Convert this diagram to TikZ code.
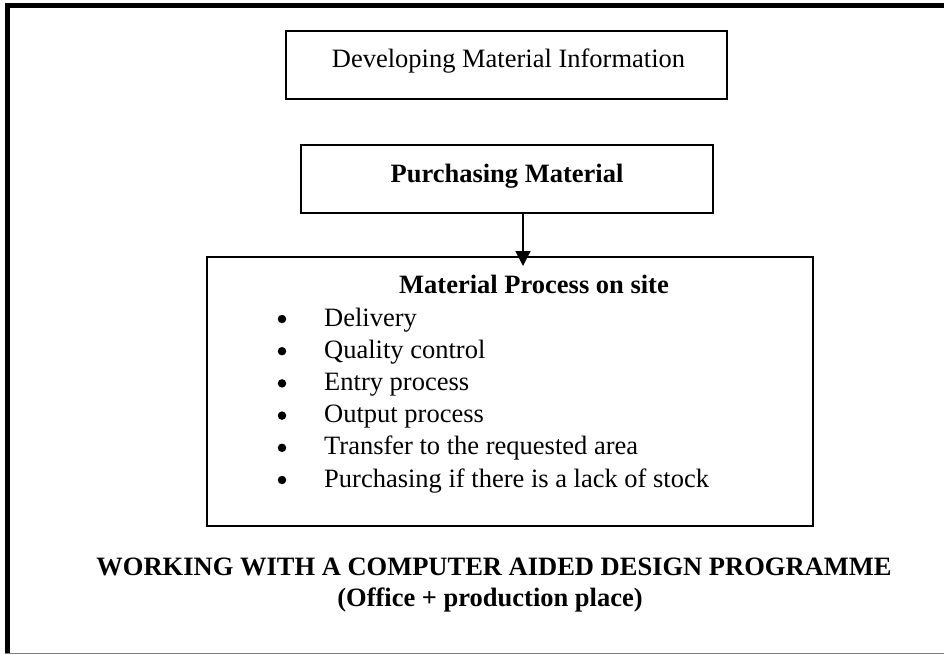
\documentclass[tikz,border=0pt]{standalone}
\usepackage{fontspec}
\setmainfont{Liberation Serif}
\usetikzlibrary{arrows.meta}
\tikzset{
  box/.style={draw=black, line width=1.6pt, rectangle, inner sep=0pt},
  lbl/.style={anchor=base, inner sep=0pt, font=\fontsize{26.5}{30}\selectfont},
  bold/.style={lbl, font=\fontsize{26.5}{30}\selectfont\bfseries},
  item/.style={anchor=base west, inner sep=0pt, font=\fontsize{26.5}{30}\selectfont},
  dot/.style={circle, fill=black, inner sep=0pt, minimum size=8.5pt},
  arr/.style={line width=1.6pt, -{Triangle[width=15pt,length=15pt]}},
}
\begin{document}
\begin{tikzpicture}[x=1pt, y=-1pt]
  \useasboundingbox (0,0) rectangle (944,654);
  % page frame: heavy left and top rules, thin grey bottom edge
  \draw[line width=5pt] (7.5,654) -- (7.5,5) -- (944,5);
  \draw[gray, line width=1pt] (5,653) -- (944,653);

  % boxes
  \node[box, minimum width=441pt, minimum height=68pt] (dev) at (506.5,65) {};
  \node[lbl] (devt) at (508.5,67) {Developing Material Information};

  \node[box, minimum width=412pt, minimum height=68pt] (pur) at (507,179) {};
  \node[bold] (purt) at (507,182) {Purchasing Material};

  \node[box, minimum width=606pt, minimum height=269pt] (site) at (510,391.5) {};
  \node[bold] (sitet) at (534,293) {Material Process on site};

  % bullet list
  \foreach \t [count=\i] in {Delivery, Quality control, Entry process, Output process,
      Transfer to the requested area, Purchasing if there is a lack of stock} {
    \node[dot] (b\i) at (282, 319 + 32.2*\i - 32.2) {};
    \node[item] (t\i) at (324, 326 + 32.2*\i - 32.2) {\t};
  }

  % connector
  \coordinate (tip) at (523,266);
  \draw[arr] (tip |- pur.south) -- (tip);

  % caption
  \node[bold] (cap1) at (494,575) {WORKING WITH A COMPUTER AIDED DESIGN PROGRAMME};
  \node[bold] (cap2) at (490,606) {(Office + production place)};
\end{tikzpicture}
\end{document}
